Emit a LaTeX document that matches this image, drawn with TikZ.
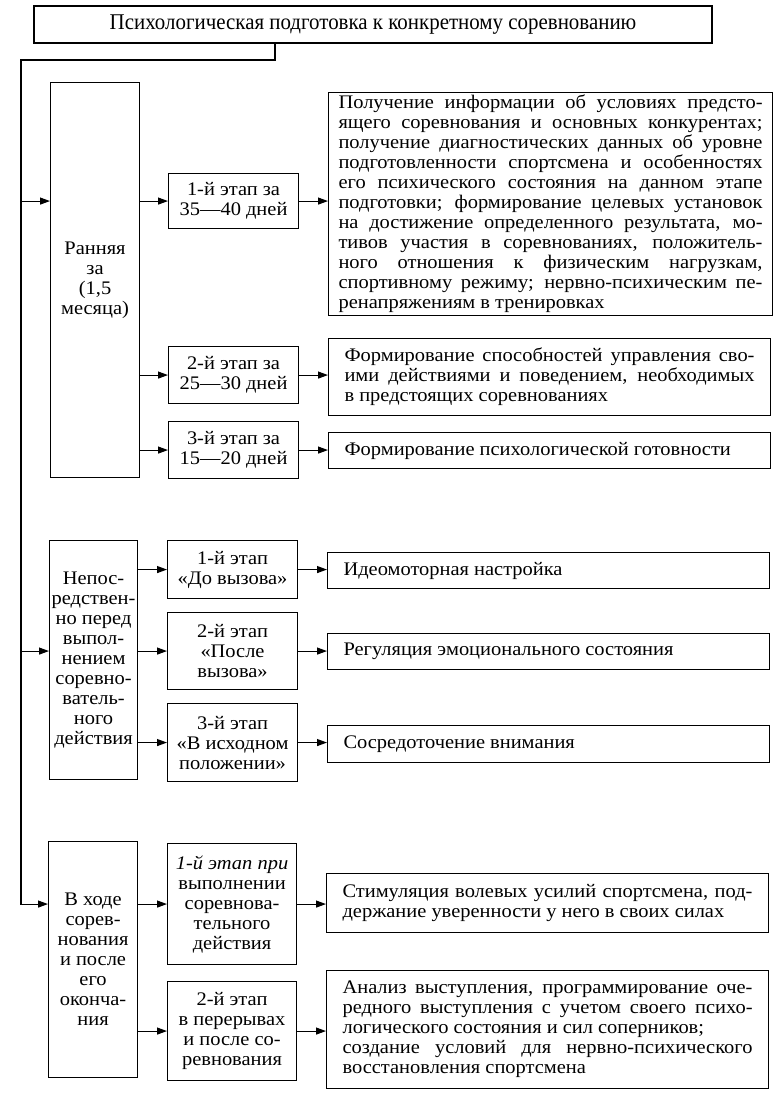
\documentclass[tikz,border=0pt]{standalone}
\usepackage{fontspec}
\setmainfont{Liberation Serif}
\newfontfamily\bodyfont{Liberation Serif}[FakeStretch=1.065]
\newfontfamily\headfont{Liberation Serif}[FakeStretch=0.93]
\usepackage{tikz}
\usetikzlibrary{positioning}
\usetikzlibrary{arrows.meta}

\begin{document}
\begin{tikzpicture}[x=1pt,y=-1pt,
		box/.style={draw,line width=1.1pt,anchor=north west,inner sep=1pt,align=center,
			font=\bodyfont\fontsize{19.2}{20}\selectfont},
		descbox/.style={box,align=justify,inner xsep=16pt,text width=410pt},
		arr/.style={line width=1.1pt,-{Triangle[length=10pt,width=7pt]}}]
		\useasboundingbox (0,0) rectangle (779,1101);
		\node[box,anchor=center,minimum width=678,minimum height=37,
			font=\headfont\fontsize{22.5}{24}\selectfont] (title) at (373,24.5)
			{Психологическая подготовка к конкретному соревнованию};
		%
		\node[box,inner xsep=0pt,minimum width=89,minimum height=395] (early) at (50,82)
			{Ранняя\\за\\(1,5\\месяца)};
		\node[box,inner xsep=0pt,minimum width=88,minimum height=239] (direct) at (49,540)
			{Непос-\\редствен-\\но перед\\выпол-\\нением\\соревно-\\ватель-\\ного\\действия};
		\node[box,inner xsep=0pt,minimum width=89,minimum height=236] (during) at (48,841)
			{В ходе\\сорев-\\нования\\и после\\его\\оконча-\\ния};
		%
		\node[box,minimum width=130,minimum height=55] (e1) at (168,173) {1-й этап за\\35—40 дней};
		\node[box,minimum width=130,minimum height=57] (e2) at (168,346) {2-й этап за\\25—30 дней};
		\node[box,minimum width=130,minimum height=57] (e3) at (168,421) {3-й этап за\\15—20 дней};
		\node[box,minimum width=130,minimum height=58] (d1) at (167,540) {1-й этап\\«До вызова»};
		\node[box,minimum width=130,minimum height=77] (d2) at (167,612) {2-й этап\\«После\\вызова»};
		\node[box,minimum width=130,minimum height=78] (d3) at (167,703) {3-й этап\\«В исходном\\положении»};
		\node[box,minimum width=129,minimum height=121] (c1) at (167,843)
			{\itshape 1-й этап при\\выполнении\\соревнова-\\тельного\\действия};
		\node[box,minimum width=129,minimum height=99] (c2) at (167,981)
			{2-й этап\\в перерывах\\и после со-\\ревнования};
		%
		\node[descbox,text width=424pt,inner xsep=10pt,minimum height=223] (e1t) at (328,92)
			{Получение информации об условиях предсто-\linebreak
			ящего соревнования и основных конкурентах;\linebreak
			получение диагностических данных об уровне\linebreak
			подготовленности спортсмена и особенностях\linebreak
			его психического состояния на данном этапе\linebreak
			подготовки; формирование целевых установок\linebreak
			на достижение определенного результата, мо-\linebreak
			тивов участия в соревнованиях, положитель-\linebreak
			ного отношения к физическим нагрузкам,\linebreak
			спортивному режиму; нервно-психическим пе-\linebreak
			ренапряжениям в тренировках};
		\node[descbox,minimum height=77] (e2t) at (328,338)
			{Формирование способностей управления сво-\linebreak
			ими действиями и поведением, необходимых\linebreak
			в предстоящих соревнованиях};
		\node[descbox,minimum height=36] (e3t) at (328,432) {Формирование психологической готовности};
		\node[descbox,minimum height=36] (d1t) at (327,552) {Идеомоторная настройка};
		\node[descbox,minimum height=36] (d2t) at (327,633) {Регуляция эмоционального состояния};
		\node[descbox,minimum height=37] (d3t) at (327,725) {Сосредоточение внимания};
		\node[descbox,minimum height=59] (c1t) at (326,873)
			{Стимуляция волевых усилий спортсмена, под-\linebreak
			держание уверенности у него в своих силах};
		\node[descbox,minimum height=118] (c2t) at (326,970)
			{Анализ выступления, программирование оче-\linebreak
			редного выступления с учетом своего психо-\linebreak
			логического состояния и сил соперников;\\
			создание условий для нервно-психического\linebreak
			восстановления спортсмена};
		%
		\coordinate (tk) at (275,60);
		\coordinate (tl) at (21,60);
		\draw[arr] (title.south -| tk) -- (tk) -- (tl) |- (during.west |- c1.west);
		\draw[arr] (tl |- e1.west) -- (early.west |- e1.west);
		\draw[arr] (tl |- d2.west) -- (direct.west |- d2.west);
		%
		\draw[arr] (e1.west -| early.east) -- (e1.west);
		\draw[arr] (e2.west -| early.east) -- (e2.west);
		\draw[arr] (e3.west -| early.east) -- (e3.west);
		\draw[arr] (d1.west -| direct.east) -- (d1.west);
		\draw[arr] (d2.west -| direct.east) -- (d2.west);
		\draw[arr] (d3.west -| direct.east) -- (d3.west);
		\draw[arr] (c1.west -| during.east) -- (c1.west);
		\draw[arr] (c2.west -| during.east) -- (c2.west);
		%
		\draw[arr] (e1.east) -- (e1.east -| e1t.west);
		\draw[arr] (e2.east) -- (e2.east -| e2t.west);
		\draw[arr] (e3.east) -- (e3.east -| e3t.west);
		\draw[arr] (d1.east) -- (d1.east -| d1t.west);
		\draw[arr] (d2.east) -- (d2.east -| d2t.west);
		\draw[arr] (d3.east) -- (d3.east -| d3t.west);
		\draw[arr] (c1.east) -- (c1.east -| c1t.west);
		\draw[arr] (c2.east) -- (c2.east -| c2t.west);
	\end{tikzpicture}
\end{document}
